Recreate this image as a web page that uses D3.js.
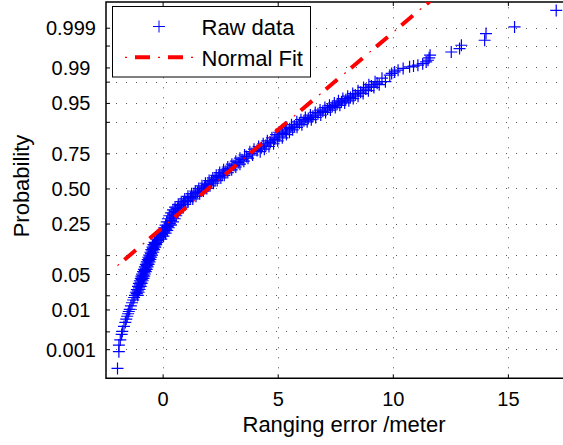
<!DOCTYPE html>
<html>
<head>
<meta charset="utf-8">
<script src="https://cdn.jsdelivr.net/npm/d3@7"></script>
<style>
  body { margin: 0; background: #fff; }
  text { font-family: "Liberation Sans", Arial, Helvetica, sans-serif; fill: #000; }
</style>
</head>
<body>
<div id="chart"></div>
<script>
// sorted ranging errors (meter) and their plotting probabilities
// (upper / left edge of the marker band)
const rawX = [-1.96, -1.90, -1.90, -1.84, -1.78, -1.75, -1.68, -1.62, -1.58, -1.54, -1.50, -1.47, -1.43,
  -1.38, -1.33, -1.28, -1.24, -1.20, -1.16, -1.12, -1.07, -1.03, -0.99, -0.95, -0.92, -0.89, -0.85,
  -0.81, -0.77, -0.73, -0.69, -0.65, -0.62, -0.58, -0.53, -0.49, -0.44, -0.40, -0.35, -0.26, -0.16,
  -0.07, 0.00, 0.07, 0.13, 0.18, 0.23, 0.29, 0.37, 0.45, 0.54, 0.68, 0.81, 0.96, 1.10, 1.26, 1.42,
  1.57, 1.71, 1.86, 2.02, 2.18, 2.33, 2.48, 2.65, 2.83, 3.01, 3.18, 3.36, 3.56, 3.79, 3.97, 4.17,
  4.37, 4.55, 4.75, 4.93, 5.06, 5.20, 5.39, 5.60, 5.83, 6.01, 6.20, 6.42, 6.63, 6.84, 7.05, 7.25,
  7.46, 7.64, 7.83, 8.04, 8.26, 8.49, 8.73, 8.96, 9.23, 9.53, 9.87, 9.95, 10.08, 10.23, 10.45, 10.73,
  10.90, 11.09, 11.30, 11.45, 11.53, 11.58, 11.62, 12.54, 12.90, 12.98, 13.99, 14.05, 15.29, 17.10];
const rawP = [0.00027, 0.00085, 0.0013, 0.0018, 0.0025, 0.003, 0.004, 0.005, 0.006, 0.007, 0.008, 0.009, 0.010,
  0.012, 0.014, 0.016, 0.018, 0.020, 0.023, 0.026, 0.030, 0.034, 0.038, 0.042, 0.046, 0.050, 0.055,
  0.060, 0.066, 0.072, 0.079, 0.086, 0.093, 0.100, 0.110, 0.120, 0.130, 0.140, 0.150, 0.165, 0.180,
  0.195, 0.210, 0.225, 0.240, 0.260, 0.280, 0.300, 0.320, 0.340, 0.360, 0.380, 0.400, 0.420, 0.440, 0.460, 0.480,
  0.500, 0.520, 0.540, 0.560, 0.580, 0.600, 0.620, 0.640, 0.660, 0.680, 0.700, 0.720, 0.740, 0.760, 0.775, 0.790,
  0.805, 0.820, 0.835, 0.850, 0.860, 0.870, 0.880, 0.890, 0.900, 0.907, 0.914, 0.921, 0.928, 0.934, 0.940, 0.945,
  0.950, 0.954, 0.958, 0.962, 0.966, 0.970, 0.974, 0.977, 0.980, 0.983, 0.9853, 0.9865, 0.9875, 0.9885, 0.9895, 0.9903,
  0.9907, 0.9911, 0.9918, 0.9925, 0.99315, 0.9940, 0.9948, 0.99565, 0.99643, 0.99705, 0.99781, 0.99855, 0.99905, 0.99969];

// middle of the dense marker band
const midX = [-1.12, -1.08, -1.03, -0.99, -0.95, -0.91, -0.88, -0.85, -0.81, -0.77, -0.73, -0.69, -0.65,
  -0.61, -0.58, -0.54, -0.50, -0.45, -0.41, -0.36, -0.32, -0.21, -0.11, -0.02, 0.07, 0.14, 0.20, 0.31,
  0.36, 0.41, 0.48, 0.56, 0.65, 0.76, 0.90, 1.07, 1.21, 1.36, 1.52, 1.68, 1.82, 1.97, 2.12, 2.28, 2.44,
  2.59, 2.75, 2.92, 3.10, 3.28, 3.45, 3.64, 3.88, 4.10, 4.29, 4.49, 4.68, 4.87, 5.06, 5.22, 5.35, 5.52,
  5.72, 5.94, 6.14, 6.33, 6.53, 6.75, 6.96, 7.17, 7.37, 7.58, 7.77, 7.96, 8.16, 8.37, 8.60, 8.83, 9.07, 9.32];
const midP = [0.0215, 0.0245, 0.028, 0.032, 0.036, 0.040, 0.044, 0.048, 0.0525, 0.0575, 0.063, 0.069, 0.0755,
  0.0825, 0.0895, 0.0965, 0.105, 0.115, 0.125, 0.135, 0.145, 0.1575, 0.1725, 0.1875, 0.2025, 0.2175, 0.2325, 0.25,
  0.27, 0.29, 0.31, 0.33, 0.35, 0.37, 0.39, 0.41, 0.43, 0.45, 0.47, 0.49, 0.51, 0.53, 0.55, 0.57, 0.59,
  0.61, 0.63, 0.65, 0.67, 0.69, 0.71, 0.73, 0.75, 0.7675, 0.7825, 0.7975, 0.8125, 0.8275, 0.8425, 0.855, 0.865, 0.875,
  0.885, 0.895, 0.9035, 0.9105, 0.9175, 0.9245, 0.931, 0.937, 0.9425, 0.9475, 0.952, 0.956, 0.960, 0.964, 0.968, 0.972, 0.9755, 0.9785];

// lower / right edge of the dense marker band
const bandX = [-1.08, -1.04, -1.00, -0.95, -0.91, -0.87, -0.83, -0.80, -0.77, -0.73, -0.69, -0.65, -0.61,
  -0.57, -0.53, -0.50, -0.46, -0.41, -0.37, -0.32, -0.28, -0.23, -0.06, 0.04, 0.13, 0.20, 0.27, 0.36,
  0.45, 0.53, 0.59, 0.67, 0.75, 0.84, 0.98, 1.11, 1.31, 1.45, 1.61, 1.77, 1.92, 2.06, 2.21, 2.37, 2.53,
  2.68, 2.83, 3.00, 3.18, 3.36, 3.53, 3.71, 3.91, 4.24, 4.42, 4.62, 4.82, 5.00, 5.20, 5.38, 5.51, 5.65,
  5.84, 6.05, 6.28, 6.46, 6.65, 6.87, 7.08, 7.29, 7.50, 7.70, 7.91, 8.09, 8.28, 8.49, 8.71, 8.94, 9.18,
  9.41, 9.68];
const bandP = [0.020, 0.023, 0.026, 0.030, 0.034, 0.038, 0.042, 0.046, 0.050, 0.055, 0.060, 0.066, 0.072,
  0.079, 0.086, 0.093, 0.100, 0.110, 0.120, 0.130, 0.140, 0.150, 0.165, 0.180, 0.195, 0.210, 0.225, 0.240,
  0.260, 0.280, 0.300, 0.320, 0.340, 0.360, 0.380, 0.400, 0.420, 0.440, 0.460, 0.480, 0.500, 0.520, 0.540, 0.560, 0.580,
  0.600, 0.620, 0.640, 0.660, 0.680, 0.700, 0.720, 0.740, 0.760, 0.775, 0.790, 0.805, 0.820, 0.835, 0.850, 0.860, 0.870,
  0.880, 0.890, 0.900, 0.907, 0.914, 0.921, 0.928, 0.934, 0.940, 0.945, 0.950, 0.954, 0.958, 0.962, 0.966, 0.970, 0.974,
  0.977, 0.980];

const probTicks = [0.001, 0.003, 0.01, 0.02, 0.05, 0.10, 0.25, 0.50, 0.75, 0.90, 0.95, 0.98, 0.99, 0.997, 0.999];
const probLabels = ["0.001", "", "0.01", "", "0.05", "", "0.25", "0.50", "0.75", "", "0.95", "", "0.99", "", "0.999"];
const xTicks = [0, 5, 10, 15];

// normal fit
const fitMean = 2.0;
const fitStd = 2.67;

// inverse normal cdf (Acklam)
function probit(p) {
  const a = [-3.969683028665376e+01, 2.209460984245205e+02, -2.759285104469687e+02, 1.383577518672690e+02, -3.066479806614716e+01, 2.506628277459239e+00];
  const b = [-5.447609879822406e+01, 1.615858368580409e+02, -1.556989798598866e+02, 6.680131188771972e+01, -1.328068155288572e+01];
  const c = [-7.784894002430293e-03, -3.223964580411365e-01, -2.400758277161838e+00, -2.549732539343734e+00, 4.374664141464968e+00, 2.938163982698783e+00];
  const d = [7.784695709041462e-03, 3.224671290700398e-01, 2.445134137142996e+00, 3.754408661907416e+00];
  const plow = 0.02425;
  let q, r;
  if (p < plow) {
    q = Math.sqrt(-2 * Math.log(p));
    return (((((c[0]*q+c[1])*q+c[2])*q+c[3])*q+c[4])*q+c[5]) / ((((d[0]*q+d[1])*q+d[2])*q+d[3])*q+1);
  }
  if (p > 1 - plow) {
    q = Math.sqrt(-2 * Math.log(1 - p));
    return -(((((c[0]*q+c[1])*q+c[2])*q+c[3])*q+c[4])*q+c[5]) / ((((d[0]*q+d[1])*q+d[2])*q+d[3])*q+1);
  }
  q = p - 0.5; r = q * q;
  return (((((a[0]*r+a[1])*r+a[2])*r+a[3])*r+a[4])*r+a[5])*q / (((((b[0]*r+b[1])*r+b[2])*r+b[3])*r+b[4])*r+1);
}

var w = 563;
var h = 445;
var pLeft = 106, pRight = 582, pTop = 2, pBottom = 378.3;

var xScale = d3.scaleLinear().domain([-2.46, 18.22]).range([pLeft, pRight]);
var zScale = d3.scaleLinear().domain([-3.65, 3.585]).range([pBottom, pTop]);

var svg = d3.select("#chart").append("svg")
  .attr("width", w)
  .attr("height", h)
  .style("background", "#fff");

svg.append("defs").append("clipPath").attr("id", "plotclip")
  .append("rect")
  .attr("x", pLeft).attr("y", pTop)
  .attr("width", pRight - pLeft).attr("height", pBottom - pTop);

// dotted grid
var grid = svg.append("g").attr("stroke", "#555").attr("stroke-width", 1).attr("stroke-dasharray", "1 9");
grid.selectAll(".hg").data(probTicks).enter().append("line")
  .attr("x1", pLeft).attr("x2", pRight)
  .attr("y1", d => Math.round(zScale(probit(d))) + 0.5)
  .attr("y2", d => Math.round(zScale(probit(d))) + 0.5);
grid.selectAll(".vg").data(xTicks).enter().append("line")
  .attr("y1", pBottom).attr("y2", pTop)
  .attr("x1", d => Math.round(xScale(d)) + 0.5)
  .attr("x2", d => Math.round(xScale(d)) + 0.5);

// axes
var yAxis = d3.axisLeft(zScale)
  .tickValues(probTicks.map(probit))
  .tickSize(-4).tickSizeOuter(0).tickPadding(10)
  .tickFormat((d, i) => probLabels[i] === "" ? "" : (probLabels[i].length < 5 ? probLabels[i] + "\u00a0" : probLabels[i]));
var gy = svg.append("g").attr("transform", "translate(" + pLeft + ",0)").call(yAxis);
gy.select(".domain").remove();
gy.selectAll("text").style("font-size", "20px").attr("dy", "0.35em");

var xAxis = d3.axisBottom(xScale).tickValues(xTicks).tickSize(-4).tickSizeOuter(0).tickPadding(14);
var gx = svg.append("g").attr("transform", "translate(0," + pBottom + ")").call(xAxis);
gx.select(".domain").remove();
gx.selectAll("text").style("font-size", "20px");

var gxt = svg.append("g").attr("transform", "translate(0," + pTop + ")")
  .call(d3.axisTop(xScale).tickValues(xTicks).tickSize(-4).tickSizeOuter(0).tickFormat(""));
gxt.select(".domain").remove();

svg.selectAll(".tick line").attr("stroke", "#000");

// frame
svg.append("path")
  .attr("d", "M" + pRight + "," + pTop + "H" + pLeft + "V" + pBottom + "H" + pRight)
  .attr("fill", "none").attr("stroke", "#000").attr("stroke-width", 1.5);

var plot = svg.append("g").attr("clip-path", "url(#plotclip)");

// raw data markers
var plus = "M-6,0H6M0,-6V6";
var pts = rawX.map((x, i) => [x, rawP[i]])
  .concat(midX.map((x, i) => [x, midP[i]]))
  .concat(bandX.map((x, i) => [x, bandP[i]]));
plot.selectAll(".pt").data(pts).enter().append("path")
  .attr("class", "pt")
  .attr("d", plus)
  .attr("transform", d => "translate(" + xScale(d[0]) + "," + zScale(probit(d[1])) + ")")
  .attr("fill", "none").attr("stroke", "#0000ff").attr("stroke-width", 1.2);

// normal fit line (straight in probit space), drawn over the markers
var fitExt = d3.extent(rawX);
var fitLine = d3.line()
  .x(d => xScale(d))
  .y(d => zScale((d - fitMean) / fitStd));
plot.append("path").datum(fitExt)
  .attr("d", fitLine)
  .attr("fill", "none").attr("stroke", "#ff0000").attr("stroke-width", 4)
  .attr("stroke-dasharray", "15 18").attr("stroke-dashoffset", 24);
plot.append("path").datum(fitExt)
  .attr("d", fitLine)
  .attr("fill", "none").attr("stroke", "#ff0000").attr("stroke-width", 1.2)
  .attr("stroke-dasharray", "2 31");

// legend
var lg = svg.append("g");
lg.append("rect").attr("x", 112.5).attr("y", 6.5).attr("width", 198).attr("height", 70.5)
  .attr("fill", "#fff").attr("stroke", "#000").attr("stroke-width", 1);
lg.append("path").attr("d", plus).attr("transform", "translate(159,26.5)")
  .attr("fill", "none").attr("stroke", "#0000ff").attr("stroke-width", 1);
lg.append("line").attr("x1", 126).attr("x2", 192).attr("y1", 57.3).attr("y2", 57.3)
  .attr("stroke", "#ff0000").attr("stroke-width", 4)
  .attr("stroke-dasharray", "15 18").attr("stroke-dashoffset", 24);
lg.append("line").attr("x1", 125).attr("x2", 193).attr("y1", 57.3).attr("y2", 57.3)
  .attr("stroke", "#ff0000").attr("stroke-width", 1.2)
  .attr("stroke-dasharray", "2 31");
lg.append("text").attr("x", 201.5).attr("y", 35).style("font-size", "22px").text("Raw data");
lg.append("text").attr("x", 201.5).attr("y", 65.7).style("font-size", "22px").text("Normal Fit");

// axis labels
svg.append("text")
  .attr("x", 344).attr("y", 431.5)
  .attr("text-anchor", "middle").style("font-size", "22px")
  .text("Ranging error /meter");
svg.append("text")
  .attr("transform", "translate(28.5,186) rotate(-90)")
  .attr("text-anchor", "middle").style("font-size", "22px")
  .text("Probability");
</script>
</body>
</html>
